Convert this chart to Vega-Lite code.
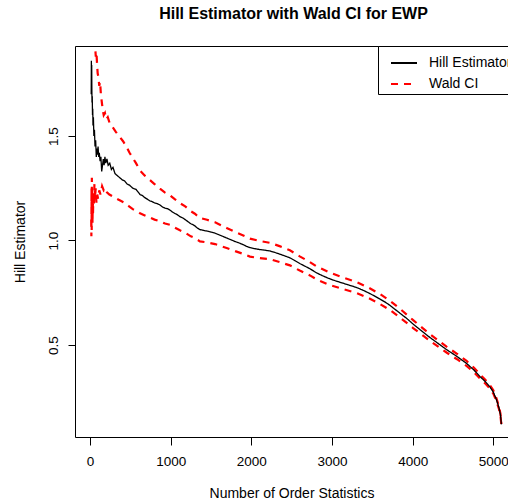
{
  "$schema": "https://vega.github.io/schema/vega-lite/v6.json",
  "width": 433,
  "height": 391,
  "autosize": {"type": "none"},
  "padding": {"left": 75, "top": 46, "right": 0, "bottom": 67},
  "background": "white",
  "config": {
    "font": "Liberation Sans",
    "view": {"stroke": null},
    "axis": {
      "domainColor": "black", "domainWidth": 1, "tickColor": "black", "tickWidth": 1,
      "labelColor": "black", "titleColor": "black", "labelFontSize": 13.5, "titleFontSize": 14,
      "titleFontWeight": "normal", "labelFont": "Liberation Sans", "titleFont": "Liberation Sans", "grid": false
    },
    "legend": {
      "title": null, "orient": "none", "legendX": 303, "legendY": 0, "symbolType": "stroke", "symbolSize": 676,
      "symbolStrokeWidth": 2, "symbolOffset": 9, "labelFontSize": 14, "labelFont": "Liberation Sans", "labelColor": "black",
      "labelOffset": 11, "padding": 3, "rowPadding": -11, "strokeColor": "black", "fillColor": "white", "labelLimit": 300
    }
  },
  "title": {
    "text": "Hill Estimator with Wald CI for EWP",
    "fontSize": 16, "fontWeight": "bold", "color": "black", "font": "Liberation Sans",
    "anchor": "middle", "frame": "group", "offset": 24, "dx": 2
  },
  "datasets": {
    "hill": [
      {"k":15,"v":1.70},{"k":17,"v":1.86},{"k":19,"v":1.75},{"k":21,"v":1.84},{"k":23,"v":1.72},{"k":25,"v":1.66},{"k":28,"v":1.69},{"k":31,"v":1.60},{"k":34,"v":1.63},{"k":37,"v":1.55},{"k":42,"v":1.59},{"k":48,"v":1.50},{"k":55,"v":1.53},{"k":62,"v":1.45},{"k":70,"v":1.48},{"k":78,"v":1.40},{"k":85,"v":1.44},{"k":92,"v":1.41},{"k":100,"v":1.45},{"k":108,"v":1.40},{"k":115,"v":1.42},{"k":125,"v":1.38},{"k":135,"v":1.40},{"k":145,"v":1.33},{"k":155,"v":1.36},{"k":165,"v":1.39},{"k":175,"v":1.36},{"k":185,"v":1.40},{"k":195,"v":1.37},{"k":210,"v":1.39},{"k":225,"v":1.36},{"k":245,"v":1.37},{"k":265,"v":1.34},{"k":285,"v":1.35},{"k":310,"v":1.32},{"k":340,"v":1.31},{"k":370,"v":1.30},{"k":400,"v":1.29},{"k":430,"v":1.285},{"k":460,"v":1.27},{"k":490,"v":1.265},{"k":530,"v":1.25},{"k":570,"v":1.245},{"k":620,"v":1.22},{"k":650,"v":1.215},{"k":680,"v":1.205},{"k":710,"v":1.198},{"k":740,"v":1.19},{"k":770,"v":1.186},{"k":800,"v":1.18},{"k":835,"v":1.176},{"k":867,"v":1.17},{"k":900,"v":1.16},{"k":930,"v":1.155},{"k":960,"v":1.152},{"k":990,"v":1.146},{"k":1020,"v":1.137},{"k":1050,"v":1.13},{"k":1080,"v":1.124},{"k":1115,"v":1.114},{"k":1150,"v":1.108},{"k":1180,"v":1.10},{"k":1215,"v":1.09},{"k":1250,"v":1.08},{"k":1275,"v":1.076},{"k":1300,"v":1.07},{"k":1330,"v":1.06},{"k":1363,"v":1.052},{"k":1400,"v":1.049},{"k":1450,"v":1.045},{"k":1500,"v":1.04},{"k":1550,"v":1.035},{"k":1620,"v":1.024},{"k":1694,"v":1.012},{"k":1750,"v":1.003},{"k":1800,"v":0.995},{"k":1850,"v":0.988},{"k":1900,"v":0.98},{"k":1940,"v":0.972},{"k":1983,"v":0.966},{"k":2040,"v":0.961},{"k":2100,"v":0.957},{"k":2160,"v":0.954},{"k":2230,"v":0.95},{"k":2290,"v":0.943},{"k":2350,"v":0.935},{"k":2410,"v":0.927},{"k":2478,"v":0.917},{"k":2540,"v":0.904},{"k":2600,"v":0.89},{"k":2660,"v":0.878},{"k":2726,"v":0.865},{"k":2809,"v":0.845},{"k":2880,"v":0.832},{"k":2950,"v":0.82},{"k":3020,"v":0.81},{"k":3100,"v":0.80},{"k":3200,"v":0.788},{"k":3305,"v":0.775},{"k":3380,"v":0.763},{"k":3450,"v":0.75},{"k":3520,"v":0.736},{"k":3594,"v":0.72},{"k":3660,"v":0.705},{"k":3717,"v":0.69},{"k":3780,"v":0.671},{"k":3850,"v":0.65},{"k":3930,"v":0.626},{"k":4006,"v":0.60},{"k":4100,"v":0.571},{"k":4200,"v":0.54},{"k":4310,"v":0.509},{"k":4420,"v":0.478},{"k":4550,"v":0.445},{"k":4668,"v":0.412},{"k":4760,"v":0.38},{"k":4833,"v":0.35},{"k":4900,"v":0.325},{"k":4957,"v":0.30},{"k":5000,"v":0.275},{"k":5040,"v":0.237},{"k":5070,"v":0.20},{"k":5089,"v":0.165},{"k":5100,"v":0.12}
    ],
    "upper": [
      {"k":15,"v":2.9},{"k":20,"v":2.7},{"k":30,"v":2.4},{"k":40,"v":2.2},{"k":50,"v":2.05},{"k":58,"v":1.97},{"k":65,"v":1.92},{"k":72,"v":1.88},{"k":80,"v":1.90},{"k":88,"v":1.84},{"k":95,"v":1.80},{"k":105,"v":1.78},{"k":115,"v":1.74},{"k":125,"v":1.76},{"k":135,"v":1.70},{"k":150,"v":1.65},{"k":160,"v":1.62},{"k":170,"v":1.60},{"k":185,"v":1.61},{"k":200,"v":1.58},{"k":220,"v":1.59},{"k":245,"v":1.56},{"k":265,"v":1.55},{"k":285,"v":1.54},{"k":320,"v":1.52},{"k":360,"v":1.50},{"k":410,"v":1.475},{"k":450,"v":1.45},{"k":490,"v":1.42},{"k":530,"v":1.395},{"k":570,"v":1.37},{"k":620,"v":1.335},{"k":680,"v":1.31},{"k":740,"v":1.29},{"k":800,"v":1.27},{"k":867,"v":1.248},{"k":930,"v":1.229},{"k":990,"v":1.217},{"k":1050,"v":1.198},{"k":1115,"v":1.179},{"k":1180,"v":1.163},{"k":1250,"v":1.14},{"k":1300,"v":1.128},{"k":1363,"v":1.108},{"k":1450,"v":1.099},{"k":1550,"v":1.087},{"k":1694,"v":1.06},{"k":1800,"v":1.041},{"k":1900,"v":1.024},{"k":1983,"v":1.009},{"k":2100,"v":0.998},{"k":2230,"v":0.989},{"k":2350,"v":0.973},{"k":2478,"v":0.953},{"k":2600,"v":0.924},{"k":2726,"v":0.897},{"k":2809,"v":0.876},{"k":2950,"v":0.85},{"k":3100,"v":0.828},{"k":3305,"v":0.801},{"k":3450,"v":0.775},{"k":3594,"v":0.744},{"k":3717,"v":0.712},{"k":3850,"v":0.671},{"k":4006,"v":0.619},{"k":4200,"v":0.556},{"k":4420,"v":0.492},{"k":4550,"v":0.458},{"k":4668,"v":0.424},{"k":4760,"v":0.391},{"k":4833,"v":0.36},{"k":4900,"v":0.334},{"k":4957,"v":0.308},{"k":5000,"v":0.283},{"k":5040,"v":0.244},{"k":5070,"v":0.206},{"k":5089,"v":0.17},{"k":5100,"v":0.123}
    ],
    "lower": [
      {"k":15,"v":1.10},{"k":17,"v":1.02},{"k":19,"v":1.25},{"k":21,"v":1.05},{"k":23,"v":1.30},{"k":25,"v":1.10},{"k":28,"v":1.22},{"k":31,"v":1.08},{"k":34,"v":1.20},{"k":37,"v":1.12},{"k":42,"v":1.24},{"k":48,"v":1.17},{"k":55,"v":1.27},{"k":62,"v":1.20},{"k":70,"v":1.25},{"k":80,"v":1.18},{"k":90,"v":1.22},{"k":100,"v":1.20},{"k":115,"v":1.24},{"k":130,"v":1.22},{"k":150,"v":1.26},{"k":170,"v":1.24},{"k":190,"v":1.25},{"k":210,"v":1.23},{"k":240,"v":1.22},{"k":285,"v":1.21},{"k":330,"v":1.20},{"k":380,"v":1.19},{"k":430,"v":1.18},{"k":480,"v":1.165},{"k":530,"v":1.15},{"k":580,"v":1.14},{"k":620,"v":1.13},{"k":680,"v":1.12},{"k":740,"v":1.11},{"k":800,"v":1.10},{"k":867,"v":1.092},{"k":930,"v":1.081},{"k":990,"v":1.075},{"k":1050,"v":1.062},{"k":1115,"v":1.049},{"k":1180,"v":1.037},{"k":1250,"v":1.02},{"k":1300,"v":1.012},{"k":1363,"v":0.996},{"k":1450,"v":0.991},{"k":1550,"v":0.983},{"k":1694,"v":0.964},{"k":1800,"v":0.949},{"k":1900,"v":0.936},{"k":1983,"v":0.923},{"k":2100,"v":0.916},{"k":2230,"v":0.911},{"k":2350,"v":0.897},{"k":2478,"v":0.881},{"k":2600,"v":0.856},{"k":2726,"v":0.833},{"k":2809,"v":0.814},{"k":2950,"v":0.79},{"k":3100,"v":0.772},{"k":3305,"v":0.749},{"k":3450,"v":0.725},{"k":3594,"v":0.696},{"k":3717,"v":0.668},{"k":3850,"v":0.629},{"k":4006,"v":0.581},{"k":4200,"v":0.524},{"k":4420,"v":0.464},{"k":4550,"v":0.432},{"k":4668,"v":0.40},{"k":4760,"v":0.369},{"k":4833,"v":0.34},{"k":4900,"v":0.316},{"k":4957,"v":0.292},{"k":5000,"v":0.267},{"k":5040,"v":0.230},{"k":5070,"v":0.194},{"k":5089,"v":0.16},{"k":5100,"v":0.117}
    ]
  },
  "resolve": {"axis": {"x": "independent"}},
  "layer": [
    {
      "data": {"name": "upper"},
      "mark": {"type": "line", "clip": true, "strokeWidth": 2.2},
      "encoding": {
        "x": {"field": "k", "type": "quantitative", "scale": {"domain": [-186, 5182], "nice": false, "zero": false},
              "axis": {"orient": "top", "labels": false, "ticks": false, "domain": true, "title": null}},
        "y": {"field": "v", "type": "quantitative", "scale": {"domain": [0.0598, 1.9306], "nice": false, "zero": false},
              "axis": {"values": [0.5, 1.0, 1.5], "format": ".1f", "labelAngle": 270, "tickSize": 7, "labelPadding": 8, "title": "Hill Estimator", "titlePadding": 19}},
        "color": {"datum": "Wald CI", "scale": {"domain": ["Hill Estimator", "Wald CI"], "range": ["black", "red"]}},
        "strokeDash": {"datum": "Wald CI", "scale": {"domain": ["Hill Estimator", "Wald CI"], "range": [[1, 0], [7, 6]]}}
      }
    },
    {
      "data": {"name": "lower"},
      "mark": {"type": "line", "clip": true, "strokeWidth": 2.2},
      "encoding": {
        "x": {"field": "k", "type": "quantitative", "scale": {"domain": [-186, 5182], "nice": false, "zero": false}, "axis": null},
        "y": {"field": "v", "type": "quantitative", "scale": {"domain": [0.0598, 1.9306], "nice": false, "zero": false},
              "axis": {"values": [0.5, 1.0, 1.5], "format": ".1f", "labelAngle": 270, "tickSize": 7, "labelPadding": 8, "title": "Hill Estimator", "titlePadding": 19}},
        "color": {"datum": "Wald CI"},
        "strokeDash": {"datum": "Wald CI"}
      }
    },
    {
      "data": {"name": "hill"},
      "mark": {"type": "line", "clip": true, "strokeWidth": 1.3},
      "encoding": {
        "x": {"field": "k", "type": "quantitative", "scale": {"domain": [-186, 5182], "nice": false, "zero": false},
              "axis": {"orient": "bottom", "values": [0, 1000, 2000, 3000, 4000, 5000], "format": "d", "tickSize": 8, "labelPadding": 9, "title": "Number of Order Statistics", "titlePadding": 19}},
        "y": {"field": "v", "type": "quantitative", "scale": {"domain": [0.0598, 1.9306], "nice": false, "zero": false},
              "axis": {"values": [0.5, 1.0, 1.5], "format": ".1f", "labelAngle": 270, "tickSize": 7, "labelPadding": 8, "title": "Hill Estimator", "titlePadding": 19}},
        "color": {"datum": "Hill Estimator"},
        "strokeDash": {"datum": "Hill Estimator"}
      }
    }
  ]
}
